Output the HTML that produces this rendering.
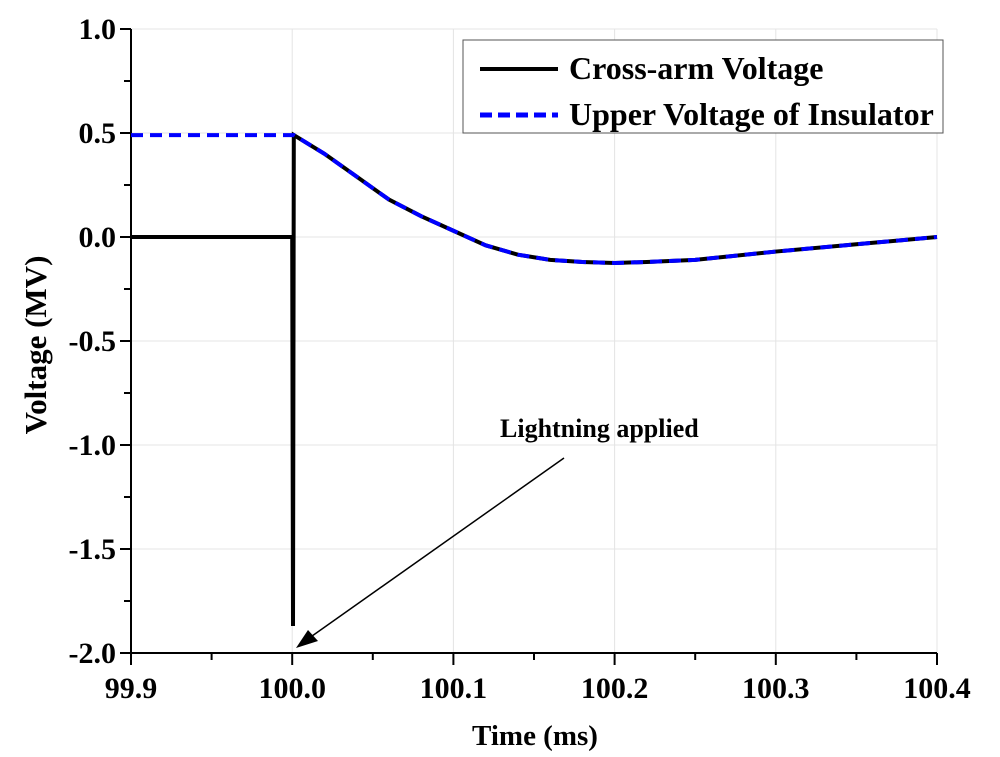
<!DOCTYPE html>
<html><head><meta charset="utf-8"><style>
body{margin:0;background:#fff}
svg{display:block;font-family:"Liberation Serif",serif;font-weight:bold}
</style></head><body>
<svg width="1000" height="757">
<g id="grid"></g>
<g id="axes"></g>
<g id="series"></g>
<text x="535" y="745" font-size="29" text-anchor="middle">Time (ms)</text>
<text transform="translate(46,345) rotate(-90)" font-size="31" text-anchor="middle">Voltage (MV)</text>
<g>
<text x="500" y="437" font-size="26">Lightning applied</text>
<line x1="564" y1="458" x2="305" y2="641" stroke="#000" stroke-width="1.5"/>
<polygon points="296,648 318,641 308,630" fill="#000"/>
</g>
<g>
<rect x="463" y="40" width="480" height="93" fill="#fff" stroke="#555" stroke-width="1"/>
<line x1="480" y1="69" x2="558" y2="69" stroke="#000" stroke-width="4"/>
<text x="569" y="79" font-size="32">Cross-arm Voltage</text>
<line x1="480" y1="115" x2="558" y2="115" stroke="#0000ff" stroke-width="5" stroke-dasharray="12,6"/>
<text x="569" y="125" font-size="32">Upper Voltage of Insulator</text>
</g>
</svg>
<script>
const xTicks=[99.9,100.0,100.1,100.2,100.3,100.4];
const xTickLabels=["99.9","100.0","100.1","100.2","100.3","100.4"];
const yTicks=[1.0,0.5,0.0,-0.5,-1.0,-1.5,-2.0];
const yTickLabels=["1.0","0.5","0.0","-0.5","-1.0","-1.5","-2.0"];
const crossTime=[99.9,100.0,100.0,100.0005,100.001,100.02,100.04,100.06,100.08,100.1,100.12,100.14,100.16,100.18,100.2,100.22,100.25,100.3,100.35,100.4];
const crossVolt=[0,0,0,-1.87,0.49,0.40,0.29,0.18,0.10,0.03,-0.04,-0.085,-0.11,-0.12,-0.125,-0.12,-0.11,-0.07,-0.035,0.0];
const upperTime=[99.9,100.0,100.001,100.02,100.04,100.06,100.08,100.1,100.12,100.14,100.16,100.18,100.2,100.22,100.25,100.3,100.35,100.4];
const upperVolt=[0.49,0.49,0.49,0.40,0.29,0.18,0.10,0.03,-0.04,-0.085,-0.11,-0.12,-0.125,-0.12,-0.11,-0.07,-0.035,0.0];
const NS="http://www.w3.org/2000/svg";
const X=v=>131+(v-99.9)/0.5*806;
const Y=v=>237-v*208;
function mk(tag,attrs,parent,text){const e=document.createElementNS(NS,tag);for(const k in attrs)e.setAttribute(k,attrs[k]);if(text!==undefined)e.textContent=text;parent.appendChild(e);return e;}
const grid=document.getElementById('grid'),axes=document.getElementById('axes'),series=document.getElementById('series');
xTicks.forEach((t,i)=>{
 if(i>0){const g=mk('line',{x1:X(t),x2:X(t),y1:29,y2:653,stroke:'#e4e4e4','stroke-width':1},grid);
 
 }
 mk('line',{x1:X(t),x2:X(t),y1:653,y2:665,stroke:'#000','stroke-width':2},axes);
 if(i<xTicks.length-1)mk('line',{x1:X(t+0.05),x2:X(t+0.05),y1:653,y2:660,stroke:'#000','stroke-width':2},axes);
 const tx=mk('text',{x:X(t),y:698,'font-size':30,'text-anchor':'middle'},axes,xTickLabels[i]);
 
 
});
yTicks.forEach((t,i)=>{
 if(i<yTicks.length-1){const g=mk('line',{x1:131,x2:937,y1:Y(t),y2:Y(t),stroke:'#e4e4e4','stroke-width':1},grid);
 
 }
 mk('line',{x1:120,x2:131,y1:Y(t),y2:Y(t),stroke:'#000','stroke-width':2},axes);
 if(i<yTicks.length-1)mk('line',{x1:124,x2:131,y1:Y(t-0.25),y2:Y(t-0.25),stroke:'#000','stroke-width':2},axes);
 const tx=mk('text',{x:116,y:Y(t)+10,'font-size':30,'text-anchor':'end'},axes,yTickLabels[i]);
 
 
});
mk('line',{x1:131,x2:131,y1:29,y2:654,stroke:'#000','stroke-width':2},axes);
mk('line',{x1:130,x2:937,y1:653,y2:653,stroke:'#000','stroke-width':2},axes);
const cross=mk('polyline',{points:crossTime.map((t,i)=>X(t)+','+Y(crossVolt[i])).join(' '),fill:'none',stroke:'#000','stroke-width':4},series);


const up=mk('polyline',{points:upperTime.map((t,i)=>X(t)+','+Y(upperVolt[i])).join(' '),fill:'none',stroke:'#0000ff','stroke-width':4,'stroke-dasharray':'12,7'},series);


</script>
</body></html>
